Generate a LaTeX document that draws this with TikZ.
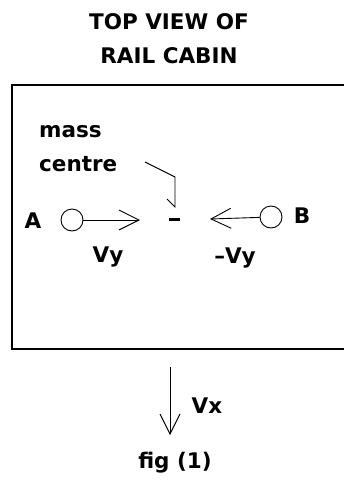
\documentclass[tikz,border=0pt]{standalone}
\usepackage{fontspec}
\setmainfont{DejaVu Sans}
\usetikzlibrary{arrows.meta}
\begin{document}
\begin{tikzpicture}[x=1pt,y=-1pt,
  lbl/.style={font=\bfseries\fontsize{21.5}{24}\selectfont, inner sep=0pt},
  vec/.style={line width=0.9pt, -{Straight Barb[length=20pt,width=20pt,line width=0.9pt]}},
  ball/.style={circle, draw, line width=0.9pt, minimum size=22pt, inner sep=0pt}]
\useasboundingbox (0,0) rectangle (344,485);
% title
\node[lbl] (t1) at (169,22) {TOP VIEW OF};
\node[lbl] (t2) at (169,56) {RAIL CABIN};
% cabin outline (right side runs off the picture)
\draw[line width=1.6pt] (346,85) -- (12,85) -- (12,349) -- (346,349);
% mass centre label and leader
\node[lbl, anchor=west] (mass) at (39,132) {mass};
\node[lbl, anchor=west] (centre) at (39,164) {centre};
\node[fill=black, minimum width=11pt, minimum height=3pt, inner sep=0pt] (mc) at (174,219) {};
\coordinate (l1) at (145,162);
\coordinate (l2) at (175,177);
\coordinate (l3) at (175,207);
\coordinate (l4) at (167,199);
\draw[line width=0.9pt] (l1) -- (l2) -- (l3) -- (l4);
% particle A
\node[lbl] (A) at (33,221) {A};
\node[ball] (ca) at (72,220) {};
\coordinate (tipA) at (140,220);
\draw[vec] (ca) -- (tipA);
\node[lbl] (vy) at (108,257) {Vy};
% particle B
\node[lbl] (B) at (302,216) {B};
\node[ball] (cb) at (271,217) {};
\coordinate (tipB) at (210,219);
\draw[vec] (cb) -- (tipB);
\node[lbl] (mvy) at (235,258) {–Vy};
% Vx
\coordinate (vx0) at (170,367);
\coordinate (vx1) at (170,435);
\draw[vec] (vx0) -- (vx1);
\node[lbl] (vx) at (207,406) {Vx};
\node[lbl] (fig) at (175,463) {fig (1)};
\end{tikzpicture}
\end{document}
